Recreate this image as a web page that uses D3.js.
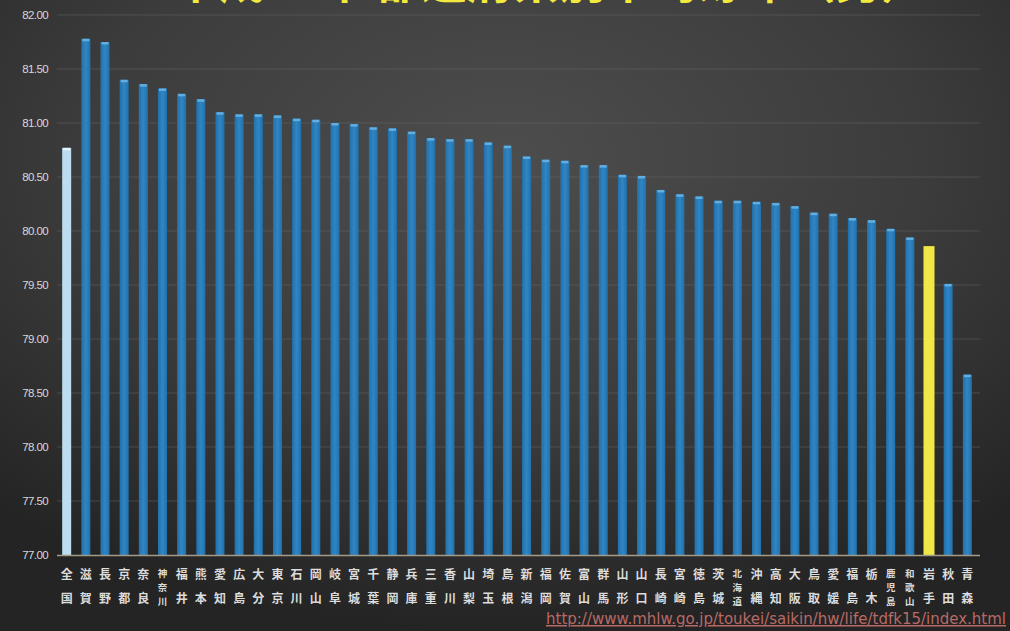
<!DOCTYPE html>
<html><head><meta charset="utf-8">
<script src="https://cdn.jsdelivr.net/npm/d3@7"></script>
<style>html,body{margin:0;padding:0;background:#2b2b2b;overflow:hidden}</style>
</head><body>
<svg id="c" width="1010" height="631"></svg>
<script>
const categories = ["全国","滋賀","長野","京都","奈良","神奈川","福井","熊本","愛知","広島","大分","東京","石川","岡山","岐阜","宮城","千葉","静岡","兵庫","三重","香川","山梨","埼玉","島根","新潟","福岡","佐賀","富山","群馬","山形","山口","長崎","宮崎","徳島","茨城","北海道","沖縄","高知","大阪","鳥取","愛媛","福島","栃木","鹿児島","和歌山","岩手","秋田","青森"];
const values = [80.77,81.78,81.75,81.40,81.36,81.32,81.27,81.22,81.10,81.08,81.08,81.07,81.04,81.03,81.00,80.99,80.96,80.95,80.92,80.86,80.85,80.85,80.82,80.79,80.69,80.66,80.65,80.61,80.61,80.52,80.51,80.38,80.34,80.32,80.28,80.28,80.27,80.26,80.23,80.17,80.16,80.12,80.10,80.02,79.94,79.86,79.51,78.67];
const yTicks = [77.00,77.50,78.00,78.50,79.00,79.50,80.00,80.50,81.00,81.50,82.00];
const titleText = "平成27年 都道府県別平均寿命（男）";
const sourceText = "http://www.mhlw.go.jp/toukei/saikin/hw/life/tdfk15/index.html";

const svg = d3.select("#c");
const W = 1010, H = 631;
const defs = svg.append("defs");
const rg = defs.append("radialGradient").attr("id","bg").attr("cx","50%").attr("cy","25%").attr("r","75%");
rg.append("stop").attr("offset","0%").attr("stop-color","#4d4d4d");
rg.append("stop").attr("offset","55%").attr("stop-color","#3c3c3c");
rg.append("stop").attr("offset","100%").attr("stop-color","#242424");
svg.append("rect").attr("width",W).attr("height",H).attr("fill","url(#bg)");

const bg2 = defs.append("linearGradient").attr("id","bar").attr("x1","0").attr("x2","1");
bg2.append("stop").attr("offset","0%").attr("stop-color","#2270aa");
bg2.append("stop").attr("offset","50%").attr("stop-color","#2f86c4");
bg2.append("stop").attr("offset","100%").attr("stop-color","#2270aa");

const x = d3.scaleBand().domain(categories).range([57, 977]).paddingInner(0.53).paddingOuter(0.27);
const y = d3.scaleLinear().domain([77, 82]).range([555, 15]);

// title (mostly cut off at top, as in the reference)
svg.append("text").attr("x", 550).attr("y", -2).attr("text-anchor","middle")
  .attr("font-family","Noto Sans CJK JP").attr("font-size",46).attr("font-weight","bold")
  .attr("fill","#f2ea3c").text(titleText);

// gridlines
svg.append("g").selectAll("line").data(yTicks.slice(1)).join("line")
  .attr("x1",57).attr("x2",980).attr("y1",d=>y(d)).attr("y2",d=>y(d))
  .attr("stroke","#6a6a6a").attr("stroke-opacity",0.45).attr("stroke-width",1.2);

// y axis labels
const ya = svg.append("g").attr("transform","translate(48,0)")
  .call(d3.axisLeft(y).tickValues(yTicks).tickFormat(d3.format(".2f")).tickSize(0).tickPadding(0));
ya.select(".domain").remove();
ya.selectAll("text").attr("fill","#d8d8d8").attr("font-family","Liberation Sans Narrow, Liberation Sans, sans-serif")
  .attr("font-size",11.5).style("letter-spacing","-0.6px");

// bars
const g = svg.append("g");
categories.forEach((c,i)=>{
  const v = values[i];
  const fill = c==="全国" ? "#bcdcf0" : (c==="岩手" ? "#f0e846" : "url(#bar)");
  const bw = c==="岩手" ? x.bandwidth()+2 : x.bandwidth();
  const bx = x(c) + (x.bandwidth()-bw)/2;
  g.append("rect").attr("x",bx).attr("y",y(v)).attr("width",bw).attr("height",y(77)-y(v)).attr("fill",fill);
  if (c!=="岩手") {
    g.append("rect").attr("x",bx+1).attr("y",y(v)).attr("width",bw-2).attr("height",2.5)
      .attr("fill", c==="全国" ? "#e8f4fb" : "#63aede");
  }
});

// x axis line
svg.append("line").attr("x1",57).attr("x2",980).attr("y1",y(77)+0.5).attr("y2",y(77)+0.5)
  .attr("stroke","#a39a88").attr("stroke-width",1.5);

// x labels (vertical stacked characters, one text element per label)
const xl = svg.append("g").attr("font-family","Noto Sans CJK JP").attr("font-weight","bold").attr("fill","#dcdcdc").attr("text-anchor","middle");
categories.forEach(c=>{
  const chars = Array.from(c);
  const cx = x(c) + x.bandwidth()/2;
  const three = chars.length > 2;
  const t = xl.append("text").attr("x",cx).attr("y", three ? 577 : 579).attr("font-size", three ? 9.5 : 12);
  chars.forEach((ch,k)=>{
    t.append("tspan").attr("x",cx).attr("dy", k===0 ? 0 : (three ? 14 : 24)).text(ch);
  });
});

// source URL
svg.append("text").attr("x",1006).attr("y",624).attr("text-anchor","end")
  .attr("font-family","DejaVu Sans, sans-serif").attr("font-size",15)
  .attr("textLength",460).attr("lengthAdjust","spacingAndGlyphs")
  .attr("fill","#b86a66").attr("text-decoration","underline").text(sourceText);
</script>
</body></html>
